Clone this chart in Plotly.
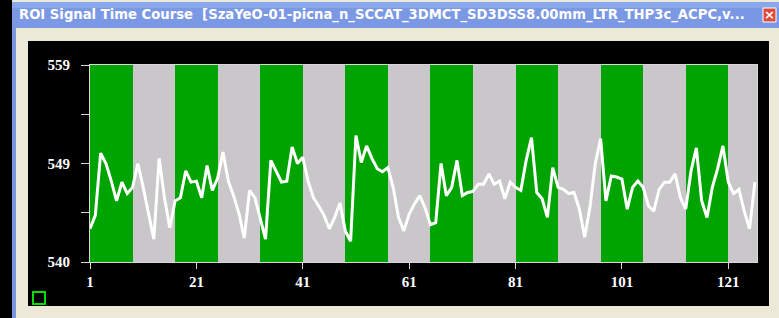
import plotly.graph_objects as go

# ---------------- data ----------------
frames = list(range(1, 127))
signal = [
    543.2, 544.5, 550.5, 549.5, 547.8, 545.9, 547.7, 546.6, 547.2, 549.5,
    547.2, 544.7, 542.2, 550.0, 546.2, 543.3, 545.9, 546.2, 548.8, 547.7,
    547.8, 546.2, 549.3, 546.9, 548.1, 550.6, 547.8, 546.4, 544.7, 542.3,
    546.9, 546.2, 544.3, 542.2, 549.8, 548.7, 547.7, 547.8, 551.1, 549.5,
    550.1, 547.8, 546.2, 545.4, 544.5, 543.2, 544.3, 545.7, 543.0, 542.0,
    552.2, 549.6, 551.2, 550.0, 549.0, 548.7, 549.1, 547.2, 544.3, 543.0,
    544.6, 545.6, 546.4, 545.2, 543.6, 543.8, 549.5, 546.4, 547.2, 549.8,
    546.4, 546.7, 546.8, 547.5, 547.5, 548.5, 547.5, 547.8, 546.1, 547.7,
    547.2, 546.9, 549.8, 552.0, 546.7, 546.1, 544.3, 549.1, 547.2, 547.0,
    546.6, 546.7, 545.1, 542.4, 545.3, 549.5, 551.9, 545.9, 548.3, 548.2,
    548.0, 545.1, 547.2, 547.8, 547.2, 545.4, 544.9, 547.0, 547.7, 547.7,
    548.5, 546.2, 545.1, 548.8, 551.0, 545.9, 544.3, 547.2, 549.0, 551.2,
    547.7, 546.6, 547.0, 544.9, 543.2, 547.7,
]
task_starts = [1, 17, 33, 49, 65, 81, 97, 113]
rest_starts = [9, 25, 41, 57, 73, 89, 105, 121]
block_len = 8
y_min, y_max = 540, 559
y_tickvals = [540, 544.75, 549.5, 554.25, 559]
y_ticktext = ["540", "", "549", "", "559"]
x_tickvals = [1, 21, 41, 61, 81, 101, 121]
title_text = "ROI Signal Time Course  [SzaYeO-01-picna_n_SCCAT_3DMCT_SD3DSS8.00mm_LTR_THP3c_ACPC,v..."

# ---------------- geometry ----------------
W, H = 779, 318
ML, MR, MT, MB = 90, 22, 65, 56
PW, PH = W - ML - MR, H - MT - MB


def px(x):
    return (x - ML) / PW


def py(y):
    return (H - MB - y) / PH


fig = go.Figure()

fig.add_trace(go.Bar(
    x=[s + block_len / 2 for s in task_starts], y=[y_max - y_min] * len(task_starts),
    base=y_min, width=block_len, marker=dict(color="#00a400", line=dict(width=0)),
    hoverinfo="skip", showlegend=False))
fig.add_trace(go.Bar(
    x=[s + block_len / 2 for s in rest_starts], y=[y_max - y_min] * len(rest_starts),
    base=y_min, width=block_len, marker=dict(color="#c9c7c9", line=dict(width=0)),
    hoverinfo="skip", showlegend=False))
fig.add_trace(go.Scatter(
    x=frames, y=signal, mode="lines",
    line=dict(color="white", width=3), showlegend=False))

shapes = []
# window chrome
shapes.append(dict(type="rect", xref="paper", yref="paper", x0=px(0), x1=px(W), y0=py(H), y1=py(0),
                   fillcolor="#ece9d8", line=dict(width=0), layer="below"))
shapes.append(dict(type="rect", xref="paper", yref="paper", x0=px(0), x1=px(12), y0=py(H), y1=py(0),
                   fillcolor="#000000", line=dict(width=0), layer="below"))
shapes.append(dict(type="rect", xref="paper", yref="paper", x0=px(12), x1=px(16), y0=py(H), y1=py(2),
                   fillcolor="#7b96e0", line=dict(width=0), layer="below"))
shapes.append(dict(type="rect", xref="paper", yref="paper", x0=px(12), x1=px(W), y0=py(28), y1=py(2),
                   fillcolor="#7b98e4", line=dict(width=0), layer="below"))
shapes.append(dict(type="rect", xref="paper", yref="paper", x0=px(12), x1=px(W), y0=py(8), y1=py(2),
                   fillcolor="#8aa6ec", line=dict(width=0), layer="below"))
shapes.append(dict(type="rect", xref="paper", yref="paper", x0=px(28), x1=px(769), y0=py(306), y1=py(41),
                   fillcolor="#000000", line=dict(width=0), layer="below"))
# close button
shapes.append(dict(type="rect", xref="paper", yref="paper", x0=px(763), x1=px(776), y0=py(22), y1=py(8),
                   fillcolor="#e04a3a", line=dict(color="#ffffff", width=1)))
# small green square
shapes.append(dict(type="rect", xref="paper", yref="paper", x0=px(33), x1=px(45), y0=py(304), y1=py(292),
                   fillcolor="#000000", line=dict(color="#00e000", width=2)))

annotations = [
    dict(text=title_text, xref="paper", yref="paper", x=px(17), y=py(15), xanchor="left", yanchor="middle",
         showarrow=False, font=dict(family="DejaVu Sans", size=13.2, color="white", weight="bold")),
    dict(text="×", xref="paper", yref="paper", x=px(769.5), y=py(15), xanchor="center", yanchor="middle",
         showarrow=False, font=dict(family="DejaVu Sans", size=13, color="white", weight="bold")),
]

tickfont = dict(family="Liberation Serif", size=15, color="white", weight="bold")

fig.update_layout(
    width=W, height=H, autosize=False,
    margin=dict(l=ML, r=MR, t=MT, b=MB, pad=0),
    paper_bgcolor="#ece9d8", plot_bgcolor="#000000",
    barmode="overlay", bargap=0,
    shapes=shapes, annotations=annotations,
    xaxis=dict(range=[1, 126.4], tickvals=x_tickvals, ticks="outside", ticklen=6, tickcolor="#d8d8d8",
               showline=True, linecolor="#d8d8d8", linewidth=1, mirror=True, showgrid=False, zeroline=False,
               tickfont=tickfont, fixedrange=True),
    yaxis=dict(range=[y_min, y_max], tickvals=y_tickvals, ticktext=y_ticktext, ticks="outside", ticklen=8,
               tickcolor="#d8d8d8", showline=True, linecolor="#d8d8d8", linewidth=1, mirror=True,
               showgrid=False, zeroline=False, tickfont=tickfont, ticklabelstandoff=8, fixedrange=True),
)

fig.write_html("out.html", config={"displayModeBar": False},
               post_script="document.body.style.margin='0';document.body.style.overflow='hidden';")
